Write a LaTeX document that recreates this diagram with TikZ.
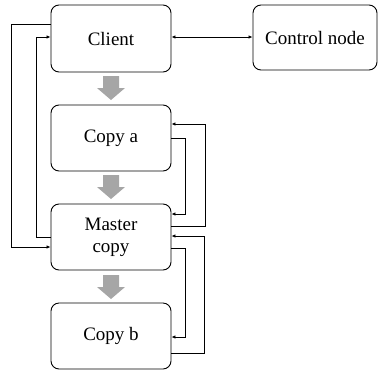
\documentclass[tikz,border=0pt]{standalone}
\usepackage{fontspec}
\setmainfont{Liberation Serif}
\usetikzlibrary{arrows.meta}
\begin{document}
\begin{tikzpicture}[x=1pt,y=-1pt,
  box/.style={draw,line width=0.9pt,rounded corners=8pt,minimum width=120pt,minimum height=66pt,inner sep=0pt,align=center,font=\fontsize{19}{22}\selectfont},
  conn/.style={line width=0.8pt,-{Latex[length=4pt,width=3.5pt]}},
  biconn/.style={line width=0.8pt,{Latex[length=4pt,width=3.5pt]}-{Latex[length=4pt,width=3.5pt]}},
  flow/.style={fill=black!35,draw=none}]
\useasboundingbox (0,0) rectangle (382,370);
\node[box,minimum height=67pt] (client) at (111,38.5) {Client};
\node[box] (copya) at (111,138) {Copy a};
\node[box] (master) at (111,237) {Master\\copy};
\node[box] (copyb) at (111,336) {Copy b};
\node[box,minimum width=124pt,minimum height=65pt] (control) at (315,37.5) {Control node};
% gray flow arrows
\foreach \t in {76,175,275}{
  \fill[flow] (103,\t) -- (119,\t) -- (119,\t+12) -- (125,\t+12) -- (111,\t+24) -- (97,\t+12) -- (103,\t+12) -- cycle;
}
% client <-> control
\draw[biconn] (client.east |- 0,37) -- (control.west |- 0,37);
% left loops
\draw[conn] (client.west |- 0,24) -- (11,24) -- (11,247) -- (master.west |- 0,247);
\draw[conn] (master.west |- 0,237) -- (36,237) -- (36,37) -- (client.west |- 0,37);
% right loops copy a / master
\draw[conn] (master.east |- 0,226) -- (205,226) -- (205,124) -- (copya.east |- 0,124);
\draw[conn] (copya.east |- 0,138) -- (185,138) -- (185,214) -- (master.east |- 0,214);
% right loops master / copy b
\draw[conn] (copyb.east |- 0,353) -- (204,353) -- (204,236) -- (master.east |- 0,236);
\draw[conn] (master.east |- 0,248) -- (185,248) -- (185,337) -- (copyb.east |- 0,337);
\end{tikzpicture}
\end{document}
